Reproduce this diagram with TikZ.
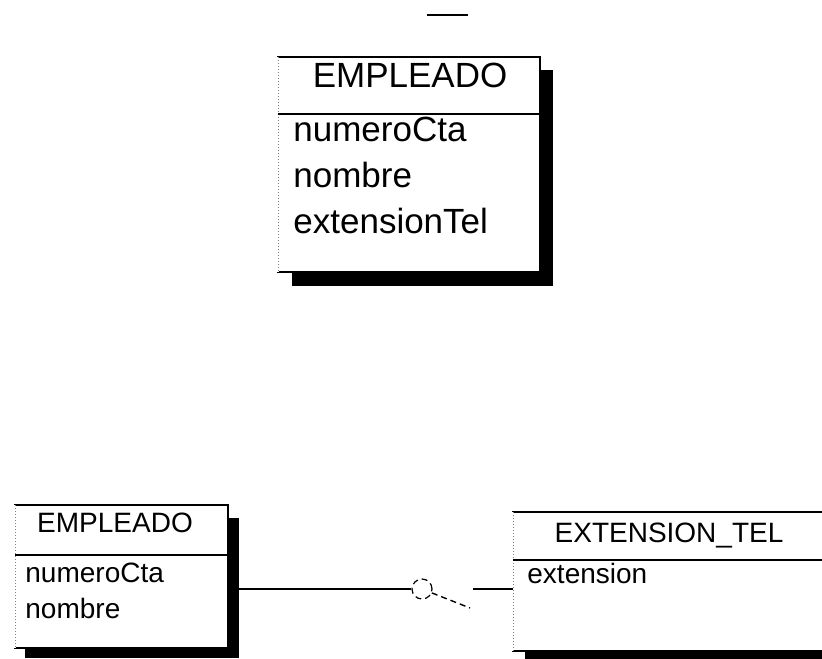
\documentclass[tikz,border=0pt]{standalone}
\usepackage{fontspec}
\setmainfont{Liberation Sans}
\usetikzlibrary{calc}

\begin{document}
\begin{tikzpicture}[x=0.5pt,y=-0.5pt,
	entbox/.style={fill=white,draw=black,line width=0.7pt},
	edgeline/.style={draw=gray,densely dotted,line width=0.5pt},
	sepline/.style={line width=0.7pt},
	bigtxt/.style={inner sep=0pt,font=\fontsize{17.5}{20}\selectfont},
	smalltxt/.style={inner sep=0pt,font=\fontsize{14}{16}\selectfont},
	rel/.style={line width=0.7pt}]
	\useasboundingbox (0,0) rectangle (822,658);
	\clip (0,0) rectangle (822,658);
	
	\draw[rel,line width=0.9pt] (427,15)--(468,15);
	
	% EMPLEADO (arriba)
	\coordinate (E1nw) at (278,57);
	\coordinate (E1se) at (540,272);
	\fill (292,70) rectangle (553,286);
	\path[entbox] (E1nw) rectangle (E1se);
	\draw[edgeline,white,solid,line width=0.8pt] (E1nw) -- (278,272);
	\draw[edgeline] (E1nw) -- (278,272);
	\draw[sepline] (278,114)--(540,114);
	\node[bigtxt,anchor=base] (e1t) at (410,88) {EMPLEADO};
	\node[bigtxt,anchor=base west] (e1a) at (293,141) {numeroCta};
	\node[bigtxt,anchor=base west] (e1b) at (293,187) {nombre};
	\node[bigtxt,anchor=base west] (e1c) at (293,233) {extensionTel};
	
	% EMPLEADO (abajo)
	\coordinate (E2nw) at (15,505);
	\coordinate (E2se) at (228,648);
	\fill (25,518) rectangle (239,658);
	\path[entbox] (E2nw) rectangle (E2se);
	\draw[edgeline,white,solid,line width=0.8pt] (E2nw) -- (15,648);
	\draw[edgeline] (E2nw) -- (15,648);
	\draw[sepline] (15,555)--(228,555);
	\node[smalltxt,anchor=base] (e2t) at (115,532) {EMPLEADO};
	\node[smalltxt,anchor=base west] (e2a) at (25,582) {numeroCta};
	\node[smalltxt,anchor=base west] (e2b) at (25,618) {nombre};
	
	% EXTENSION_TEL
	\coordinate (X1nw) at (513,512);
	\coordinate (X1se) at (840,651);
	\fill (525,522) rectangle (850,665);
	\path[entbox] (X1nw) rectangle (X1se);
	\draw[edgeline,white,solid,line width=0.8pt] (X1nw) -- (513,651);
	\draw[edgeline] (X1nw) -- (513,651);
	\draw[sepline] (513,560)--(840,560);
	\node[smalltxt,anchor=base] (x1t) at (669,542) {EXTENSION\_TEL};
	\node[smalltxt,anchor=base west] (x1a) at (527,583) {extension};
	
	% relacion
	\coordinate (E2e) at (239,589);
	\coordinate (X1w) at (513,589);
	\coordinate (crow) at (473,589);
	\coordinate (toe) at (470,608);
	\node[circle,draw,densely dashed,line width=0.6pt,minimum size=10pt,inner sep=0pt] (opt) at (422,589) {};
	\draw[rel] (E2e) -- (opt);
	\draw[rel,densely dashed] (opt) -- (toe);
	\draw[rel] (crow) -- (X1w);
\end{tikzpicture}
\end{document}
